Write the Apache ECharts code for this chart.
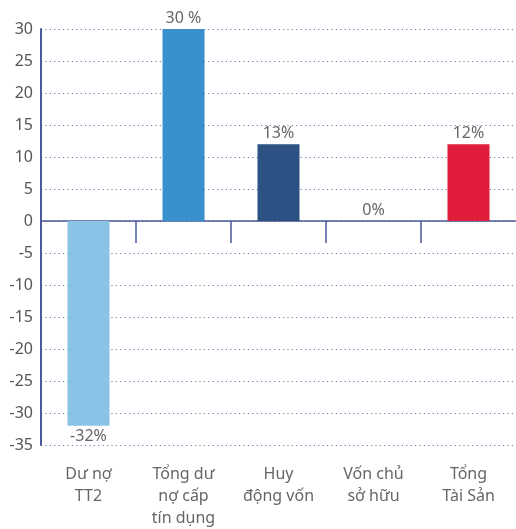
<!DOCTYPE html>
<html>
<head>
<meta charset="utf-8">
<script src="https://cdn.jsdelivr.net/npm/echarts@6/dist/echarts.min.js"></script>
<style>
  html, body { margin: 0; padding: 0; background: #fff; }
  #chart { width: 516px; height: 529px; }
</style>
</head>
<body>
<div id="chart"></div>
<script>
const categories = ['Dư nợ\nTT2', 'Tổng dư\nnợ cấp\ntín dụng', 'Huy\nđộng vốn', 'Vốn chủ\nsở hữu', 'Tổng\nTài Sản']
const values = [-32, 30, 12, 0, 12]
const valueLabels = ['-32%', '30 %', '13%', '0%', '12%']
const barColors = ['#89c4e7', '#3a8fcd', '#2b5282', '#e11d3c', '#e11d3c']

const font = 'Noto Sans'
const axisBlue = '#4a5a98'

// tick marks between categories only (no tick at either end)
const dividerTicks = categories.map((_, i) => i).slice(1)

const chart = echarts.init(document.getElementById('chart'))

const option = {
  backgroundColor: '#fff',
  animation: false,
  grid: { left: 41, right: 0, top: 29, bottom: 83, containLabel: false },
  xAxis: [
    {
      type: 'category',
      data: categories,
      position: 'bottom',
      axisLine: { show: false, onZero: false },
      axisTick: { show: false },
      axisLabel: {
        color: '#666',
        fontFamily: font,
        fontSize: 16,
        lineHeight: 22,
        margin: 18
      }
    },
    {
      type: 'value',
      min: 0,
      max: categories.length,
      position: 'bottom',
      splitLine: { show: false },
      axisLine: { show: true, onZero: true, lineStyle: { color: axisBlue, width: 1.5 } },
      axisTick: {
        show: true,
        length: 22,
        customValues: dividerTicks,
        lineStyle: { color: axisBlue, width: 1.5 }
      },
      axisLabel: { show: false }
    }
  ],
  yAxis: {
    type: 'value',
    min: -35,
    max: 30,
    interval: 5,
    axisLine: { show: true, lineStyle: { color: axisBlue, width: 2 } },
    axisTick: { show: false },
    axisLabel: { color: '#555', fontFamily: font, fontSize: 16, margin: 8 },
    splitLine: {
      show: true,
      lineStyle: { color: '#6b7bb3', width: 1.2, type: [1.2, 3.2] }
    }
  },
  series: [{
    type: 'bar',
    xAxisIndex: 0,
    barWidth: 42,
    data: values.map((v, i) => ({
      value: v,
      itemStyle: { color: barColors[i] },
      label: { position: v < 0 ? 'bottom' : 'top' }
    })),
    label: {
      show: true,
      distance: 3,
      color: '#666',
      fontFamily: font,
      fontSize: 16,
      formatter: p => valueLabels[p.dataIndex]
    }
  }]
}

chart.setOption(option)
</script>
</body>
</html>
